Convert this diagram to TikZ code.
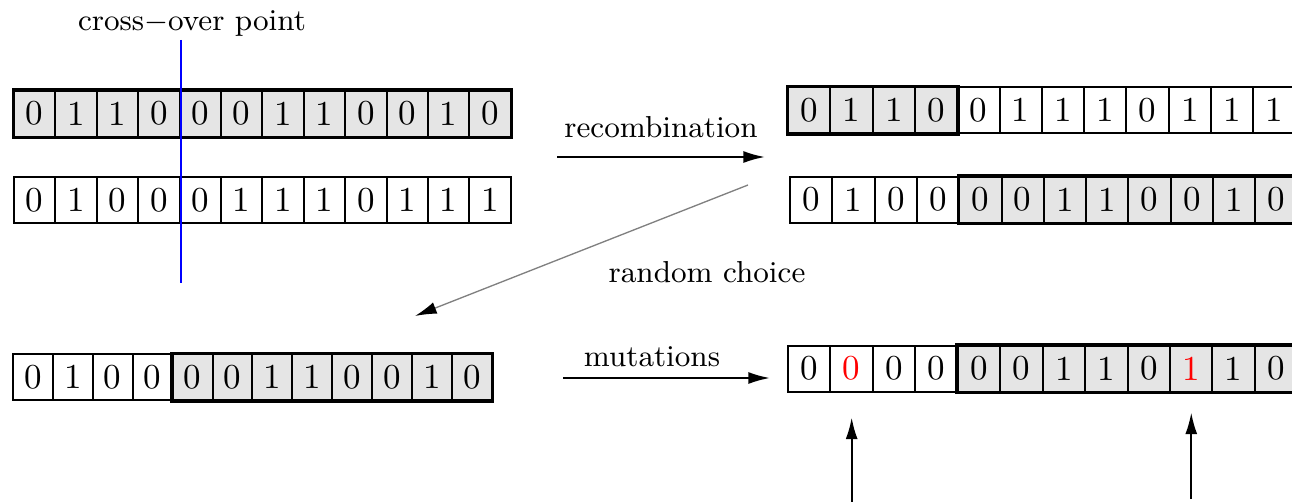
\documentclass[tikz,border=0pt]{standalone}
\usetikzlibrary{arrows.meta}

\begin{document}
\begin{tikzpicture}[x=0.3pt,y=-0.3pt,font=\fontsize{9.1}{11}\selectfont,
    cell/.style={draw,line width=0.6pt,minimum height=13.8pt,inner sep=0pt,font=\fontsize{10.5}{12}\selectfont},
    gr/.style={fill=gray!20},
    wh/.style={fill=white},
    mutwh/.style={wh,text=red},
    mutgr/.style={gr,text=red},
    block/.style={line width=0.9pt},
    arr/.style={-{Latex[length=6.5pt,width=3.6pt]},line width=0.6pt}]
  \useasboundingbox (0,0) rectangle (1292,502);
  \clip (0,0) rectangle (1292,502);
  % parents
  \foreach \b/\f [count=\i] in {0/gr,1/gr,1/gr,0/gr,0/gr,0/gr,1/gr,1/gr,0/gr,0/gr,1/gr,0/gr}
    \node[cell,\f,minimum width=12.42pt] (a\i) at ({14+(\i-0.5)*41.4},113.5) {\b};
  \foreach \b/\f [count=\i] in {0/wh,1/wh,0/wh,0/wh,0/wh,1/wh,1/wh,1/wh,0/wh,1/wh,1/wh,1/wh}
    \node[cell,\f,minimum width=12.42pt] (b\i) at ({14+(\i-0.5)*41.4},200) {\b};
  \draw[block] (a1.north west) rectangle (a12.south east);
  \node (cross) at (192,23) {cross$-$over point};
  \draw[blue,line width=0.6pt] ([yshift=14.9pt]a4.north east) -- ([yshift=-17.7pt]b4.south east);
  % children
  \foreach \b/\f [count=\i] in {0/gr,1/gr,1/gr,0/gr,0/wh,1/wh,1/wh,1/wh,0/wh,1/wh,1/wh,1/wh}
    \node[cell,\f,minimum width=12.69pt] (c\i) at ({788+(\i-0.5)*42.3},110) {\b};
  \foreach \b/\f [count=\i] in {0/wh,1/wh,0/wh,0/wh,0/gr,0/gr,1/gr,1/gr,0/gr,0/gr,1/gr,0/gr}
    \node[cell,\f,minimum width=12.69pt] (d\i) at ({790+(\i-0.5)*42.3},199.5) {\b};
  \draw[block] (c1.north west) rectangle (c4.south east);
  \draw[block] (d5.north west) rectangle (d12.south east);
  % chosen one and its mutant
  \foreach \b/\f [count=\i] in {0/wh,1/wh,0/wh,0/wh,0/gr,0/gr,1/gr,1/gr,0/gr,0/gr,1/gr,0/gr}
    \node[cell,\f,minimum width=11.97pt] (e\i) at ({13+(\i-0.5)*39.9},377) {\b};
  \foreach \b/\f [count=\i] in {0/wh,0/mutwh,0/wh,0/wh,0/gr,0/gr,1/gr,1/gr,0/gr,1/mutgr,1/gr,0/gr}
    \node[cell,\f,minimum width=12.74pt] (f\i) at ({788+(\i-0.5)*42.45},368.5) {\b};
  \draw[block] (e5.north west) rectangle (e12.south east);
  \draw[block] (f5.north west) rectangle (f12.south east);
  % operators
  \coordinate (rec0) at (557,157);
  \coordinate (rec1) at (765,157);
  \draw[arr] (rec0) -- (rec1) node[midway,above=2pt] (rec) {recombination};
  \coordinate (ch0) at (748,185);
  \coordinate (ch1) at (415,316);
  \draw[gray,line width=0.4pt,-{Latex[length=6.5pt,width=3.6pt,color=black]}] (ch0) -- (ch1);
  \node (choice) at (707,272) {random choice};
  \coordinate (mut0) at (563,378);
  \coordinate (mut1) at (770,378);
  \draw[arr] (mut0) -- (mut1);
  \node (mut) at (652,357) {mutations};
  \draw[arr] ([yshift=-34pt]f2.south) -- ([yshift=-7.5pt]f2.south);
  \draw[arr] ([yshift=-32pt]f10.south) -- ([yshift=-6pt]f10.south);
\end{tikzpicture}
\end{document}
